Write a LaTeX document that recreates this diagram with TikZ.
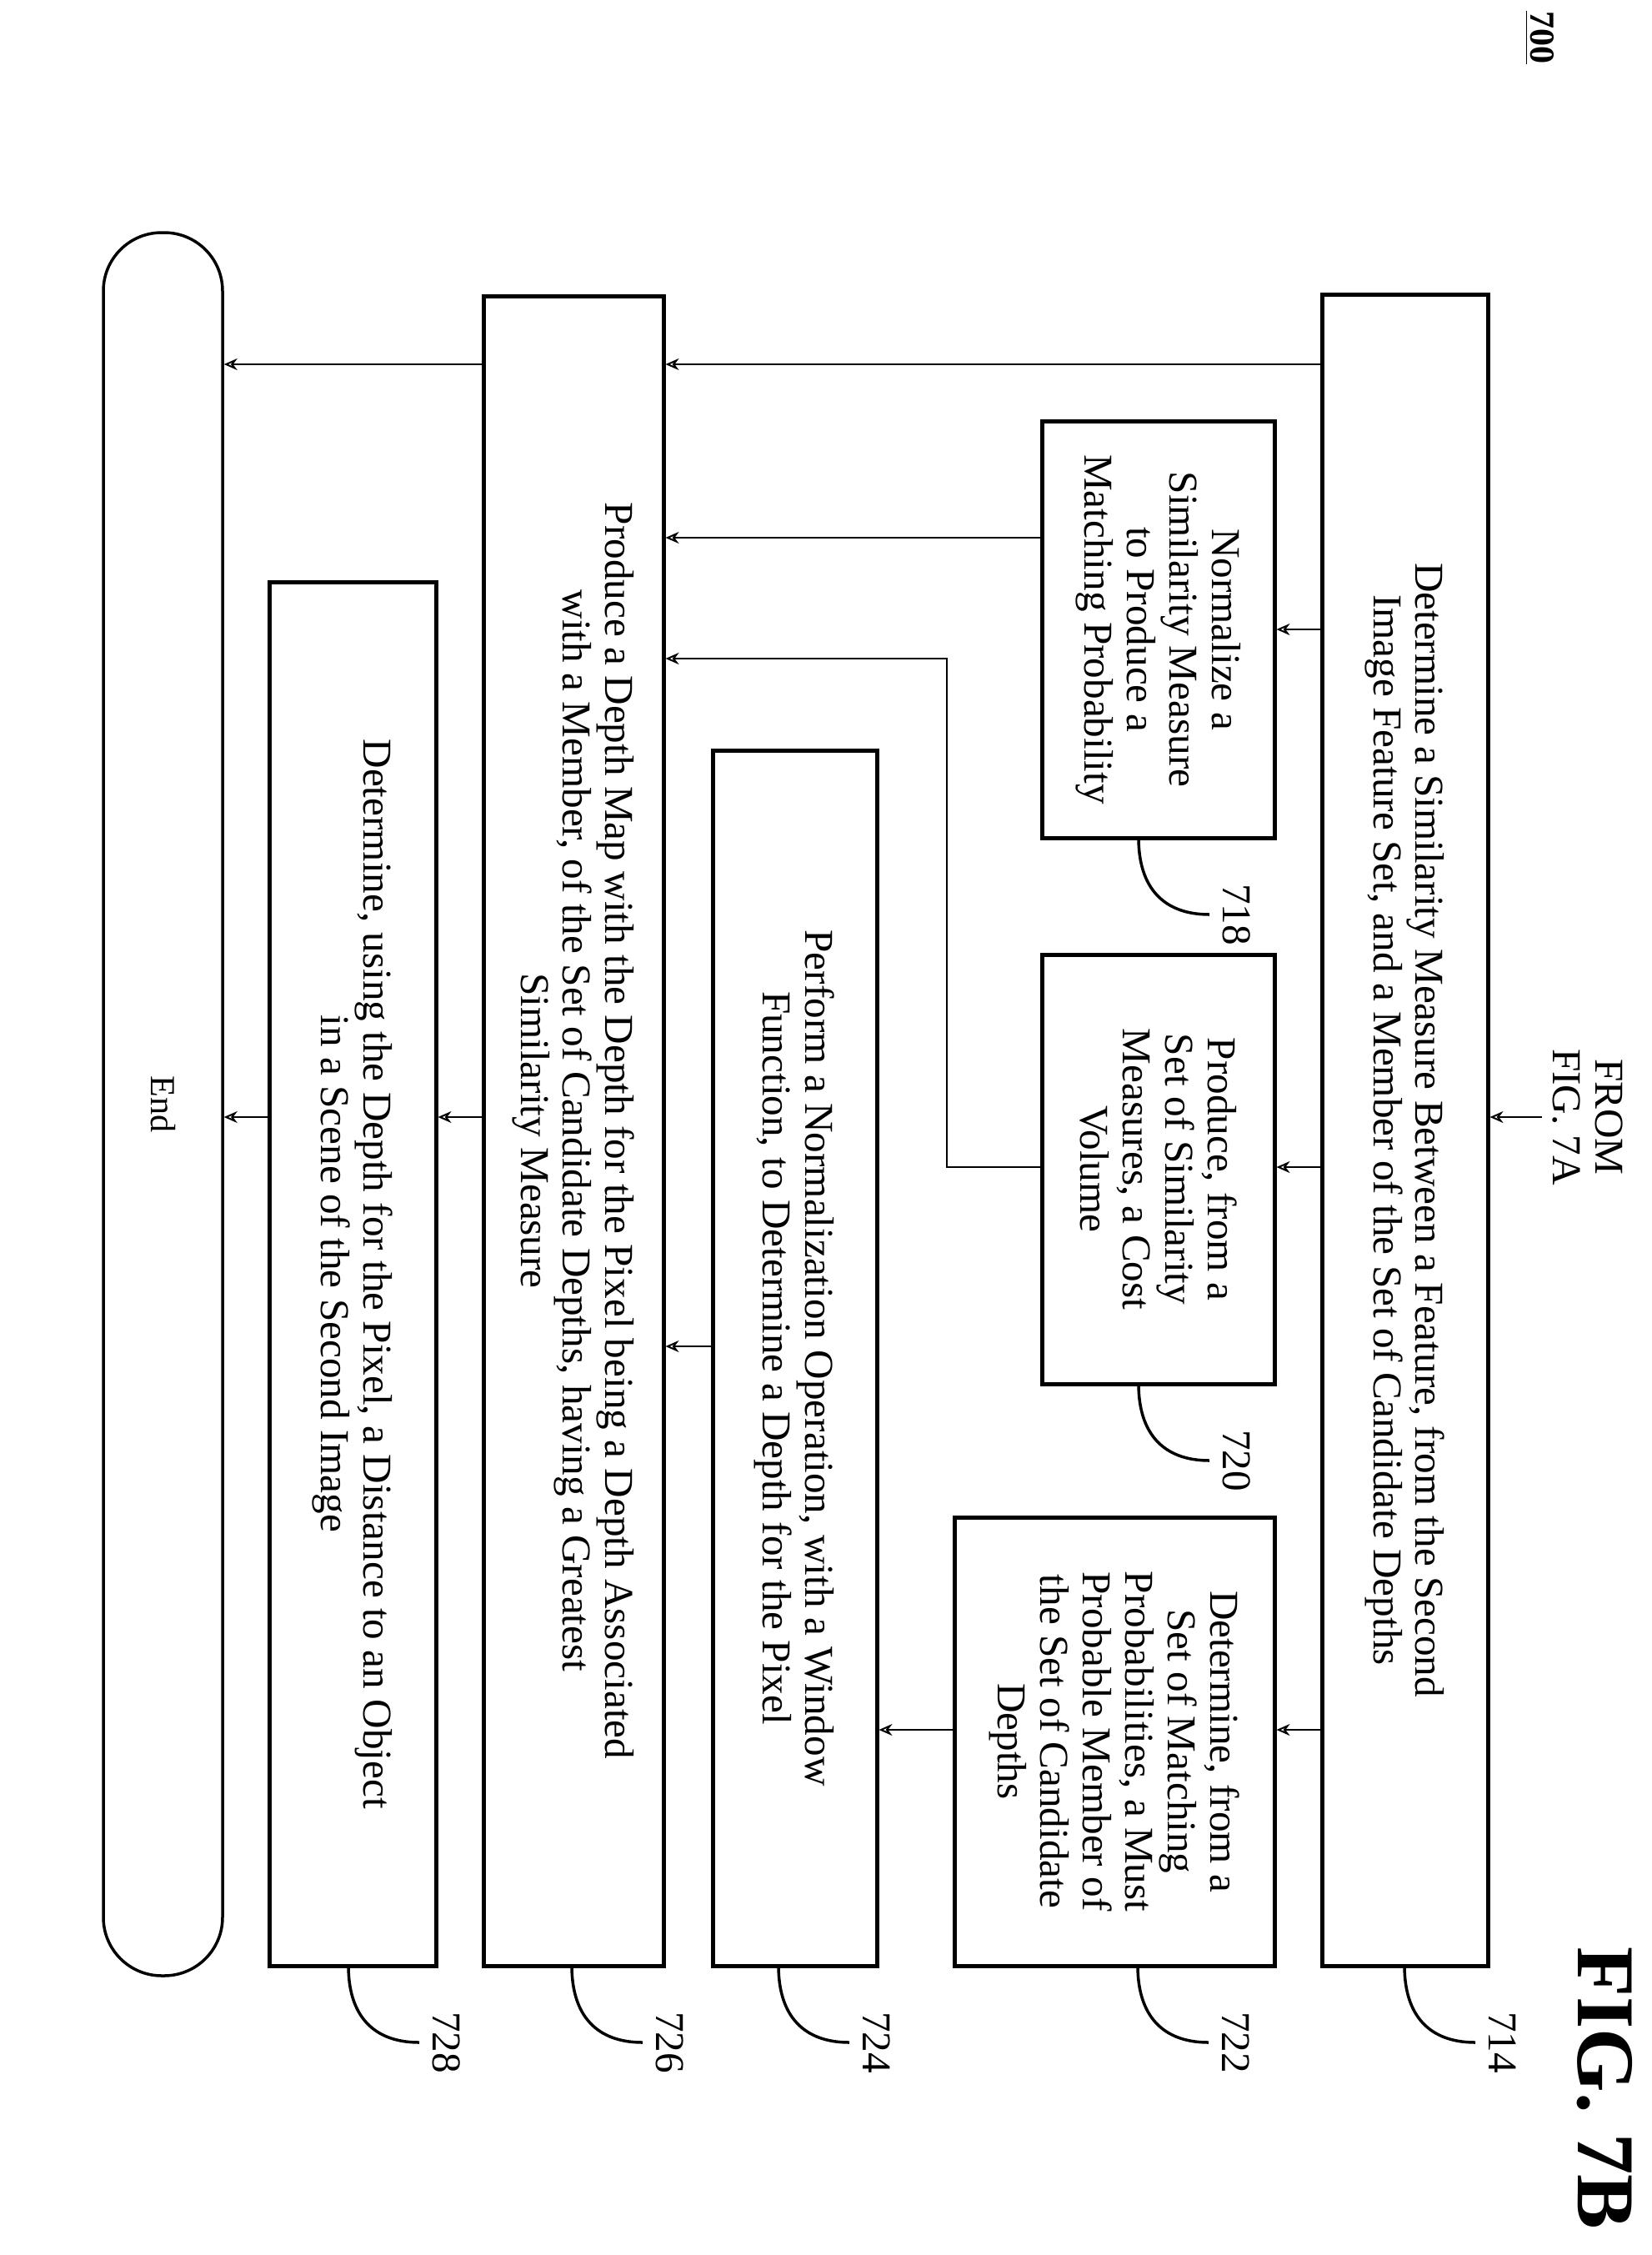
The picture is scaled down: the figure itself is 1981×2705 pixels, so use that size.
\documentclass[tikz,border=0pt]{standalone}
\usepackage{fontspec}
\setmainfont{Liberation Serif}
\usetikzlibrary{arrows.meta, positioning, calc}

\begin{document}
\begin{tikzpicture}[x=0.1mm, y=-0.1mm,
    etape/.style={draw, line width=0.5mm, rotate=-90, inner sep=0pt, align=center,
        font=\fontsize{14}{14.5}\selectfont},
    fin/.style={draw, line width=0.35mm, rotate=-90, rounded corners=7mm, inner sep=0pt,
        font=\fontsize{12}{14}\selectfont},
    fleche/.style={-{Stealth[length=1.6mm, width=1.4mm, open]}, line width=0.2mm},
    repere/.style={line width=0.35mm},
    numero/.style={rotate=-90, font=\fontsize{14}{14}\selectfont}]
    \useasboundingbox (0,0) rectangle (1981,2705);

    % Titre
    \node[rotate=-90, font=\bfseries\fontsize{12}{12}\selectfont] (fig) at (1847,45) {\underline{700}};
    \node[rotate=-90, font=\bfseries\fontsize{28}{28}\selectfont] (figb) at (1925,2505) {FIG. 7B};

    % Entree
    \node[rotate=-90, align=center, font=\fontsize{14}{14.5}\selectfont] (from) at (1905,1340) {FROM\\FIG. 7A};

    % Etapes
    \node[etape, minimum width=200.5mm, minimum height=19.9mm] (b714) at (1685.5,1355.5)
        {Determine a Similarity Measure Between a Feature, from the Second\\Image Feature Set, and a Member of the Set of Candidate Depths};
    \node[etape, minimum width=50mm, minimum height=27.9mm] (b718) at (1389.5,755)
        {Normalize a\\Similarity Measure\\to Produce a\\Matching Probability};
    \node[etape, minimum width=51.5mm, minimum height=27.9mm] (b720) at (1389.5,1402.5)
        {Produce, from a\\Set of Similarity\\Measures, a Cost\\Volume};
    \node[etape, minimum width=53.8mm, minimum height=38.4mm] (b722) at (1337,2089)
        {Determine, from a\\Set of Matching\\Probabilities, a Must\\Probable Member of\\the Set of Candidate\\Depths};
    \node[etape, minimum width=145.8mm, minimum height=19.7mm] (b724) at (953.5,1629)
        {Perform a Normalization Operation, with a Window\\Function, to Determine a Depth for the Pixel};
    \node[etape, minimum width=200.3mm, minimum height=21.6mm] (b726) at (688,1356.5)
        {Produce a Depth Map with the Depth for the Pixel being a Depth Associated\\with a Member, of the Set of Candidate Depths, having a Greatest\\Similarity Measure};
    \node[etape, minimum width=166mm, minimum height=20mm] (b728) at (423,1528)
        {Determine, using the Depth for the Pixel, a Distance to an Object\\in a Scene of the Second Image};
    \node[fin, minimum width=209.1mm, minimum height=14.3mm] (bend) at (195.5,1324.5) {End};

    % Fleches
    \draw[fleche] (from.south) -- (b714.north |- from.south);
    \draw[fleche] (b714.south |- 0,437) -- (b726.north |- 0,437);
    \draw[fleche] (b726.south |- 0,437) -- (bend.north |- 0,437);
    \draw[fleche] (b714.south |- 0,755) -- (b718.north |- 0,755);
    \draw[fleche] (b718.south |- 0,645) -- (b726.north |- 0,645);
    \draw[fleche] (b714.south |- 0,1400) -- (b720.north |- 0,1400);
    \coordinate (c720) at (1136,790);
    \draw[fleche] (b720.south |- 0,1400) -| (c720) -- (b726.north |- c720);
    \draw[fleche] (b714.south |- 0,2075) -- (b722.north |- 0,2075);
    \draw[fleche] (b722.south |- 0,2075) -- (b724.north |- 0,2075);
    \draw[fleche] (b724.south |- 0,1615) -- (b726.north |- 0,1615);
    \draw[fleche] (b726.south |- 0,1340) -- (b728.north |- 0,1340);
    \draw[fleche] (b728.south |- 0,1340) -- (bend.north |- 0,1340);

    % Reperes
    \foreach \nom/\xs/\yb in {714/1685/2358, 718/1366/1005, 720/1366/1660, 722/1365/2358,
                              724/934/2358, 726/686/2358, 728/418/2358} {
        \draw[repere] (\xs,\yb) .. controls (\xs,\yb+60) and (\xs+30,\yb+92) .. (\xs+85,\yb+92);
        \node[numero] (n\nom) at (\xs+118,\yb+92) {\nom};
    }
\end{tikzpicture}
\end{document}
